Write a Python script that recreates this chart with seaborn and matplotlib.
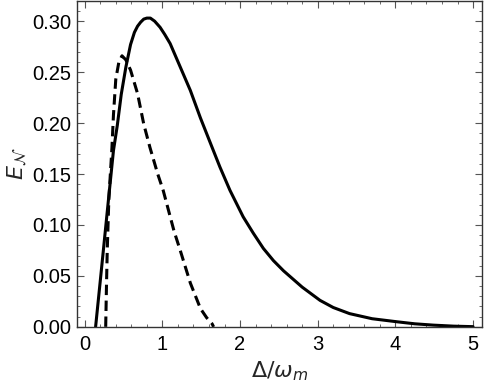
import matplotlib
matplotlib.use("Agg")
import matplotlib.pyplot as plt
import seaborn as sns
from matplotlib.ticker import MultipleLocator, FormatStrFormatter

# values
solid_x = [0.14, 0.22, 0.29, 0.37, 0.42, 0.47, 0.53, 0.59, 0.64, 0.68, 0.72, 0.76, 0.80,
           0.845, 0.90, 0.97, 1.03, 1.10, 1.23, 1.36, 1.49, 1.62, 1.74, 1.87, 2.04,
           2.17, 2.30, 2.43, 2.56, 2.8, 3.03, 3.2, 3.41, 3.7, 4.02, 4.25, 4.49, 4.75, 5.0]
solid_y = [0.0, 0.06, 0.113, 0.173, 0.198, 0.228, 0.255, 0.277, 0.289, 0.295, 0.299, 0.302, 0.303,
           0.303, 0.300, 0.294, 0.287, 0.278, 0.255, 0.232, 0.205, 0.180, 0.157, 0.134, 0.108,
           0.092, 0.077, 0.065, 0.055, 0.039, 0.026, 0.019, 0.013, 0.008, 0.005, 0.003,
           0.0017, 0.0007, 0.0002]

dash_x = [0.27, 0.28, 0.29, 0.31, 0.33, 0.35, 0.37, 0.40, 0.44, 0.48, 0.53, 0.59,
          0.68, 0.76, 0.84, 0.94, 1.01, 1.15, 1.23, 1.36, 1.49, 1.57, 1.64, 1.66]
dash_y = [0.0, 0.04, 0.075, 0.124, 0.15, 0.175, 0.208, 0.243, 0.26, 0.266, 0.262, 0.252,
          0.229, 0.199, 0.176, 0.15, 0.134, 0.094, 0.075, 0.043, 0.018, 0.009, 0.003, 0.0]

sns.set_style("ticks")
plt.rcParams['font.family'] = ['Liberation Sans', 'DejaVu Sans']
plt.rcParams['mathtext.fontset'] = 'dejavusans'

fig = plt.figure(figsize=(4.84, 3.85), dpi=100)
ax = fig.add_axes([0.159, 0.151, 0.836, 0.847])

sns.lineplot(x=solid_x, y=solid_y, ax=ax, color='black', linewidth=2.2, sort=False)
sns.lineplot(x=dash_x, y=dash_y, ax=ax, color='black', linewidth=2.2, sort=False,
             linestyle=(0, (3.4, 1.8)))

ax.set_xlim(-0.1, 5.11)
ax.set_ylim(0, 0.32)
ax.xaxis.set_major_locator(MultipleLocator(1))
ax.xaxis.set_minor_locator(MultipleLocator(0.2))
ax.yaxis.set_major_locator(MultipleLocator(0.05))
ax.yaxis.set_minor_locator(MultipleLocator(0.01))
ax.yaxis.set_major_formatter(FormatStrFormatter('%.2f'))
ax.tick_params(which='both', direction='in', top=True, right=True, colors='#555555',
               labelcolor='black', labelsize=14.5)
ax.tick_params(axis='y', which='major', pad=4)
ax.tick_params(axis='x', which='major', pad=6)
ax.tick_params(which='major', length=5)
ax.tick_params(which='minor', length=2.5)
for s in ax.spines.values():
    s.set_color('#333333')
    s.set_linewidth(1.0)

ax.set_xlabel(r'$\Delta/\omega_m$', fontsize=16, labelpad=4)
ax.set_ylabel(r'$E_\mathcal{N}$', fontsize=16, labelpad=2)

fig.savefig('out.png', dpi=100)
